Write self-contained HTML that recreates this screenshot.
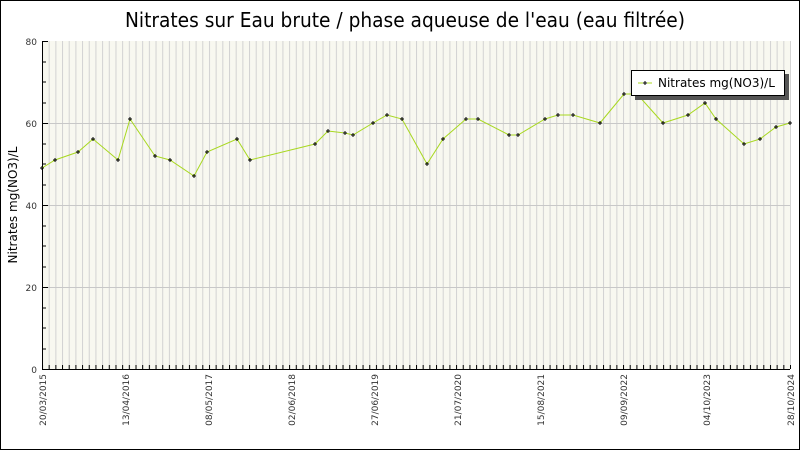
<!DOCTYPE html>
<html><head><meta charset="utf-8"><style>
body{margin:0;background:#fff}
</style></head><body>
<svg width="800" height="450" xmlns="http://www.w3.org/2000/svg" font-family="DejaVu Sans, Liberation Sans, sans-serif">
<defs>
<pattern id="vg" x="42" y="41" width="6.6786" height="328" patternUnits="userSpaceOnUse">
<line x1="0.5" y1="0" x2="0.5" y2="328" stroke="#d2d2d2" stroke-width="1"/>
</pattern>
<pattern id="tk" x="42" y="365" width="6.6786" height="4" patternUnits="userSpaceOnUse">
<line x1="0.5" y1="0" x2="0.5" y2="4" stroke="#000" stroke-width="1"/>
</pattern>
<marker id="m" markerWidth="6" markerHeight="6" refX="3" refY="3" markerUnits="userSpaceOnUse">
<path d="M1,3H5M3,1V5" stroke="#000" stroke-width="1"/>
</marker>
</defs>
<rect x="0.5" y="0.5" width="799" height="449" fill="#fff" stroke="#000"/>
<text x="405" y="27" font-size="20" text-anchor="middle" fill="#000" textLength="560" lengthAdjust="spacingAndGlyphs">Nitrates sur Eau brute / phase aqueuse de l'eau (eau filtrée)</text>
<rect x="42" y="41" width="748" height="328" fill="#f8f8f0"/>
<rect x="42" y="41" width="749" height="328" fill="url(#vg)"/>
<g stroke="#c8c8c8"><line x1="42" y1="123.5" x2="790" y2="123.5"/><line x1="42" y1="205.5" x2="790" y2="205.5"/><line x1="42" y1="287.5" x2="790" y2="287.5"/></g>
<rect x="42" y="365" width="749" height="4" fill="url(#tk)"/>
<g stroke="#000">
<line x1="42.5" y1="41" x2="42.5" y2="369"/><line x1="42" y1="369.5" x2="790" y2="369.5"/>
<line x1="42" y1="41.5" x2="48" y2="41.5"/><line x1="42" y1="123.5" x2="48" y2="123.5"/><line x1="42" y1="205.5" x2="48" y2="205.5"/><line x1="42" y1="287.5" x2="48" y2="287.5"/>
<line x1="42" y1="62" x2="46" y2="62"/><line x1="42" y1="82" x2="46" y2="82"/><line x1="42" y1="103" x2="46" y2="103"/>
<line x1="42" y1="144" x2="46" y2="144"/><line x1="42" y1="164" x2="46" y2="164"/><line x1="42" y1="185" x2="46" y2="185"/>
<line x1="42" y1="226" x2="46" y2="226"/><line x1="42" y1="246" x2="46" y2="246"/><line x1="42" y1="267" x2="46" y2="267"/>
<line x1="42" y1="308" x2="46" y2="308"/><line x1="42" y1="328" x2="46" y2="328"/><line x1="42" y1="349" x2="46" y2="349"/>
</g>
<g font-size="9" fill="#333" text-anchor="end">
<text x="37" y="45">80</text><text x="37" y="127">60</text><text x="37" y="209">40</text><text x="37" y="291">20</text><text x="37" y="373">0</text>
</g>
<text transform="translate(17,205) rotate(-90)" font-size="12" text-anchor="middle" fill="#000">Nitrates mg(NO3)/L</text>
<g font-size="9" fill="#333" text-anchor="end">
<text transform="translate(46,374) rotate(-90)">20/03/2015</text>
<text transform="translate(129,374) rotate(-90)">13/04/2016</text>
<text transform="translate(212,374) rotate(-90)">08/05/2017</text>
<text transform="translate(295,374) rotate(-90)">02/06/2018</text>
<text transform="translate(378,374) rotate(-90)">27/06/2019</text>
<text transform="translate(461,374) rotate(-90)">21/07/2020</text>
<text transform="translate(544,374) rotate(-90)">15/08/2021</text>
<text transform="translate(627,374) rotate(-90)">09/09/2022</text>
<text transform="translate(710,374) rotate(-90)">04/10/2023</text>
<text transform="translate(794,374) rotate(-90)">28/10/2024</text>
</g>
<polyline fill="none" stroke="#a8d820" stroke-width="1" marker-start="url(#m)" marker-mid="url(#m)" marker-end="url(#m)" points="42,168 55,160 78,152 93,139 118,160 130,119 155,156 170,160 194,176 207,152 237,139 250,160 315,144 328,131 345,133 353,135 373,123 387,115 402,119 427,164 443,139 466,119 478,119 509,135 518,135 545,119 558,115 573,115 600,123 624,94 637,94 663,123 688,115 705,103 716,119 744,144 760,139 776,127 790,123"/>
<rect x="635" y="74" width="154" height="26" fill="#555"/>
<rect x="631.5" y="70.5" width="153" height="25" fill="#fff" stroke="#000"/>
<line x1="638" y1="83" x2="652" y2="83" stroke="#a8d820"/>
<path d="M643,83H647M645,81V85" stroke="#000"/>
<text x="658" y="87" font-size="12" fill="#000">Nitrates mg(NO3)/L</text>
</svg>
</body></html>
